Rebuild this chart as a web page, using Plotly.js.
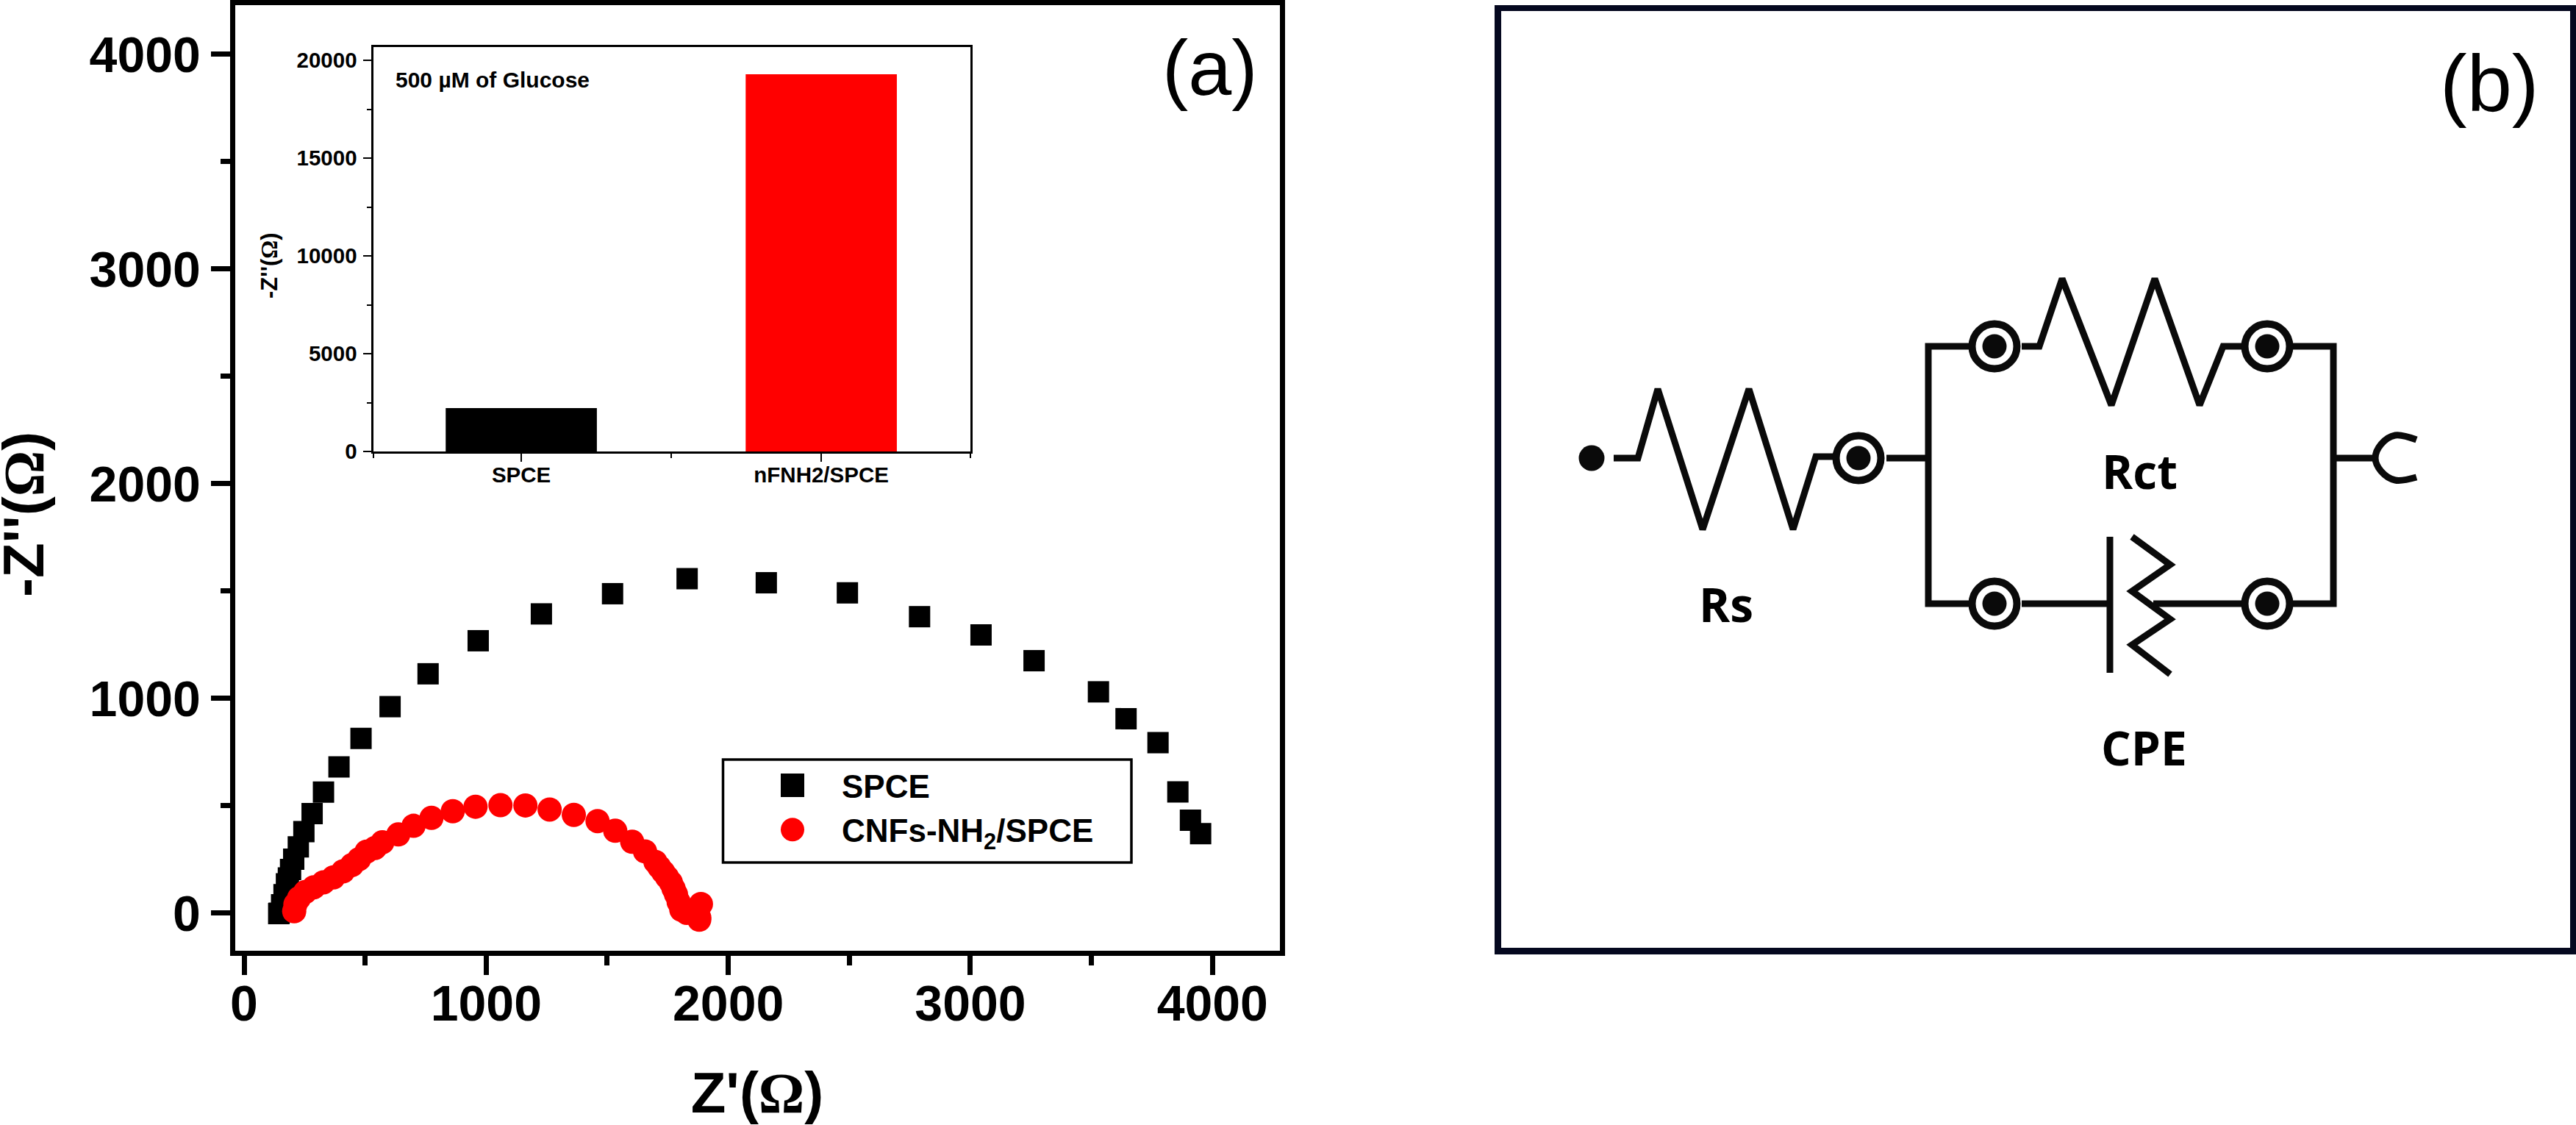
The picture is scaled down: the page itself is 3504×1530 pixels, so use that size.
<!DOCTYPE html>
<html>
<head>
<meta charset="utf-8">
<script src="https://cdn.plot.ly/plotly-3.0.1.min.js"></script>
<style>html,body{margin:0;padding:0;background:#fff}#chart{width:3504px;height:1530px}</style>
</head>
<body>
<div id="chart"></div>
<script>
// ---- Panel (a): Nyquist data ----
const spceName = 'SPCE';
const spceX = [143,145,155,165,175,183,192,205,224,247,281,328,392,483,603,760,967,1228,1522,1830,2157,2492,2790,3044,3263,3529,3643,3775,3857,3909,3951];
const spceY = [-2,0,39,86,137,164,204,252,309,380,464,564,681,814,962,1115,1269,1394,1488,1558,1539,1492,1381,1296,1176,1031,906,794,565,433,371];
const cnfName = 'CNFs-NH<sub>2</sub>/SPCE';
const cnfX = [207,212,227,252,288,328,369,409,445,475,506,541,571,637,700,774,862,956,1059,1162,1262,1362,1460,1533,1603,1656,1699,1715,1731,1747,1763,1774,1784,1795,1806,1828,1887,1880,1880];
const cnfY = [9,41,70,98,121,144,167,195,224,252,287,304,330,367,407,444,475,496,503,502,483,458,429,384,333,288,239,215,192,168,143,115,88,52,16,2,43,-30,-20];
// ---- Panel (a): inset bars ----
const insetCategories = ['SPCE','nFNH2/SPCE'];
const insetValues = [2218,19285];
const insetColors = ['#000000','#ff0000'];
// ---- Panel (b): circuit schematic, in page pixels ----
const wireRsX = [2195,2228,2255,2316,2379,2439,2470,2499];
const wireRsY = [623,623,529,720,529,720,621,621];
const wireStubX = [2566,2623];
const wireStubY = [623,623];
const loopLeftX = [2680,2623,2623,2680];
const loopLeftY = [471,471,821,821];
const wireRctX = [2750,2774,2805,2872,2931,2992,3024,3049];
const wireRctY = [471,471,379,551,379,551,471,471];
const loopRightX = [3119,3174,3174,3119];
const loopRightY = [471,471,821,821];
const capLeadX = [2750,2870];
const capLeadY = [821,821];
const capPlateX = [2870,2870];
const capPlateY = [730,915];
const cpeZigX = [2900,2952,2900,2952,2900,2952];
const cpeZigY = [730,768,804,842,877,917];
const cpeLeadX = [2929,3049];
const cpeLeadY = [821,821];
const outStubX = [3174,3231];
const outStubY = [623,623];
const outCupX = [3287,3258,3239,3231,3239,3258,3287];
const outCupY = [598,592,604,623,641,653,649];
const ringX = [2528,2713,3084,2713,3084];
const ringY = [623,471,471,821,821];
const terminalX = [2165];
const terminalY = [623];

const W = 3504, H = 1530;
const FONT = 'Liberation Sans, Arial, sans-serif';
const INK = '#0a0a0a';
const xDom = (a,b) => [a/W, b/W];
const yDom = (t,b) => [1-b/H, 1-t/H];
const wire = (x,y,shape) => ({x, y, xaxis:'x3', yaxis:'y3', mode:'lines', showlegend:false, hoverinfo:'skip',
  line:{color:INK, width:9, shape:shape || 'linear'}});

const traces = [
  {name:spceName, x:spceX, y:spceY, mode:'markers', type:'scatter', marker:{symbol:'square', size:29, color:'#000000'}},
  {name:cnfName, x:cnfX, y:cnfY, mode:'markers', type:'scatter', marker:{symbol:'circle', size:33, color:'#ff0000'}},
  {x:insetCategories.map((_,i)=>i), y:insetValues, type:'bar', xaxis:'x2', yaxis:'y2', width:0.504,
   marker:{color:insetColors}, showlegend:false},
  wire(wireRsX,wireRsY), wire(wireStubX,wireStubY), wire(loopLeftX,loopLeftY), wire(wireRctX,wireRctY),
  wire(loopRightX,loopRightY), wire(capLeadX,capLeadY), wire(capPlateX,capPlateY), wire(cpeZigX,cpeZigY),
  wire(cpeLeadX,cpeLeadY), wire(outStubX,outStubY), wire(outCupX,outCupY,'spline'),
  {x:ringX, y:ringY, xaxis:'x3', yaxis:'y3', mode:'markers', showlegend:false, hoverinfo:'skip',
   marker:{symbol:'circle-open', size:61, color:INK, line:{color:INK, width:10}}},
  {x:ringX, y:ringY, xaxis:'x3', yaxis:'y3', mode:'markers', showlegend:false, hoverinfo:'skip',
   marker:{symbol:'circle', size:33, color:INK}},
  {x:terminalX, y:terminalY, xaxis:'x3', yaxis:'y3', mode:'markers', showlegend:false, hoverinfo:'skip',
   marker:{symbol:'circle', size:35, color:INK}}
];

const mainTick = {family:FONT, size:68, color:'#000', weight:700};
const insetTick = {family:FONT, size:29.5, color:'#000', weight:700};
const omega = '<span style="font-family:Liberation Serif">Ω</span>';

const layout = {
  width:W, height:H, margin:{l:0,r:0,t:0,b:0,pad:0},
  paper_bgcolor:'#ffffff', plot_bgcolor:'#ffffff',
  font:{family:FONT, color:'#000'},
  showlegend:true,
  legend:{x:1011/W, y:1-1033/H, xanchor:'left', yanchor:'top', borderwidth:0, bgcolor:'rgba(0,0,0,0)',
    itemwidth:124, itemsizing:'trace', tracegroupgap:0,
    font:{family:FONT, size:44, color:'#000', weight:700}},
  xaxis:{domain:xDom(319.5,1740.5), range:[-38,4277], anchor:'y', tick0:0, dtick:1000, ticks:'outside', ticklen:26, tickwidth:7,
    tickcolor:'#000', showline:true, linecolor:'#000', linewidth:7, mirror:true, showgrid:false, zeroline:false,
    tickfont:mainTick, ticklabelstandoff:-19,
    minor:{dtick:500, ticks:'outside', ticklen:13, tickwidth:7, tickcolor:'#000', showgrid:false},
    title:{text:"Z'(" + omega + ")", font:{family:FONT, size:78, color:'#000', weight:700}, standoff:60}},
  yaxis:{domain:yDom(7,1292.5), range:[-173,4229], anchor:'x', tick0:0, dtick:1000, ticks:'outside', ticklen:26, tickwidth:7,
    tickcolor:'#000', showline:true, linecolor:'#000', linewidth:7, mirror:true, showgrid:false, zeroline:false,
    tickfont:mainTick, ticklabelstandoff:0,
    minor:{dtick:500, ticks:'outside', ticklen:13, tickwidth:7, tickcolor:'#000', showgrid:false}},
  xaxis2:{domain:xDom(507.5,1319.5), range:[-0.494,1.496], anchor:'y2', tickmode:'array', tickvals:[0,1], ticktext:insetCategories,
    ticks:'outside', ticklen:11, tickwidth:2, tickcolor:'#000', showline:true, linecolor:'#000', linewidth:3, mirror:true,
    showgrid:false, zeroline:false, tickfont:insetTick, ticklabelstandoff:-7,
    minor:{tickmode:'array', tickvals:[-0.494,0.5,1.496], ticks:'outside', ticklen:6, tickwidth:2, tickcolor:'#000', showgrid:false}},
  yaxis2:{domain:yDom(64,614), range:[0,20677], anchor:'x2', tick0:0, dtick:5000, tickformat:'d', ticks:'outside', ticklen:11, tickwidth:2,
    tickcolor:'#000', showline:true, linecolor:'#000', linewidth:3, mirror:true, showgrid:false, zeroline:false,
    tickfont:insetTick, ticklabelstandoff:2,
    minor:{dtick:2500, ticks:'outside', ticklen:6, tickwidth:2, tickcolor:'#000', showgrid:false}},
  xaxis3:{domain:xDom(2041.5,3496), range:[2041.5,3496], anchor:'y3', showline:true, linecolor:'#05081f', linewidth:8.5, mirror:true,
    showgrid:false, zeroline:false, ticks:'', showticklabels:false, fixedrange:true},
  yaxis3:{domain:yDom(15,1289), range:[1289,15], anchor:'x3', showline:true, linecolor:'#05081f', linewidth:8.5, mirror:true,
    showgrid:false, zeroline:false, ticks:'', showticklabels:false, fixedrange:true},
  shapes:[
    {type:'rect', xref:'paper', yref:'paper', x0:983.5/W, x1:1539/W, y0:1-1173/H, y1:1-1033/H,
     line:{color:'#000', width:3.5}, fillcolor:'rgba(0,0,0,0)', layer:'below'}
  ],
  annotations:[
    {text:"-Z''(" + omega + ")", xref:'paper', yref:'paper', x:32/W, y:1-700/H, xanchor:'center', yanchor:'middle', textangle:-90, showarrow:false,
     font:{family:FONT, size:78, color:'#000', weight:700}},
    {text:"-Z''(" + omega + ")", xref:'paper', yref:'paper', x:366/W, y:1-362/H, xanchor:'center', yanchor:'middle', textangle:-90, showarrow:false,
     font:{family:FONT, size:31, color:'#000', weight:700}},
    {text:'500 µM of Glucose', xref:'paper', yref:'paper', x:536/W, y:1-109/H, xanchor:'left', yanchor:'middle', showarrow:false,
     font:{family:FONT, size:30, color:'#000', weight:700}},
    {text:'(a)', xref:'paper', yref:'paper', x:1646/W, y:1-92/H, xanchor:'center', yanchor:'middle', showarrow:false,
     font:{family:FONT, size:106, color:'#000'}},
    {text:'(b)', xref:'paper', yref:'paper', x:3386/W, y:1-113/H, xanchor:'center', yanchor:'middle', showarrow:false,
     font:{family:FONT, size:110, color:'#000'}},
    {text:'Rs', xref:'paper', yref:'paper', x:2348/W, y:1-821/H, xanchor:'center', yanchor:'middle', showarrow:false,
     font:{family:'Open Sans, sans-serif', size:64, color:'#000', weight:700}},
    {text:'Rct', xref:'paper', yref:'paper', x:2910/W, y:1-640/H, xanchor:'center', yanchor:'middle', showarrow:false,
     font:{family:'Open Sans, sans-serif', size:64, color:'#000', weight:700}},
    {text:'CPE', xref:'paper', yref:'paper', x:2916/W, y:1-1016/H, xanchor:'center', yanchor:'middle', showarrow:false,
     font:{family:'Open Sans, sans-serif', size:64, color:'#000', weight:700}}
  ]
};

Plotly.newPlot('chart', traces, layout, {displayModeBar:false, staticPlot:true}).then(gd => {
  // Plotly caps legend symbols at 16px; the reference keys match the plot markers.
  gd.querySelectorAll('.legend .legendpoints path.scatterpts').forEach(p => {
    p.setAttribute('transform', (p.getAttribute('transform') || '') + ' scale(2)');
  });
});
</script>
</body>
</html>
